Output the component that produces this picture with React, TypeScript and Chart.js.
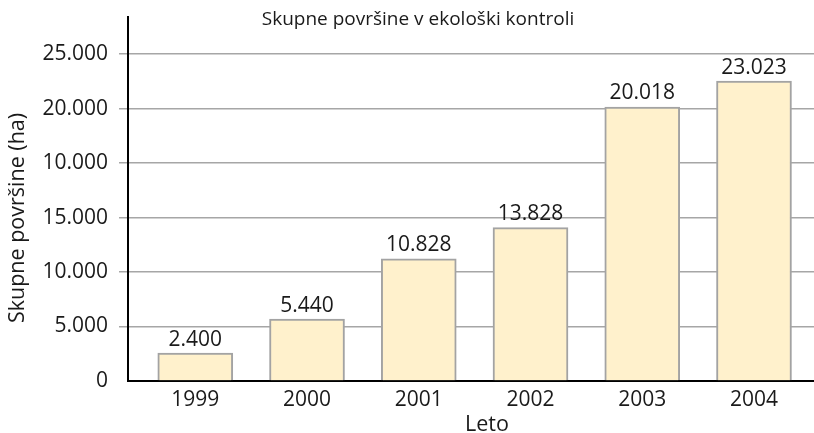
import React, { useEffect, useRef } from 'react';
import { Chart, registerables } from 'chart.js';

Chart.register(...registerables);

const years = ['1999', '2000', '2001', '2002', '2003', '2004'];
const barValues = [2566, 5683, 11210, 14079, 25142, 27525];
const valueLabels = ['2.400', '5.440', '10.828', '13.828', '20.018', '23.023'];
const yTickValues = [0, 5000, 10000, 15000, 20000, 25000, 30000];
const yTickLabels = ['0', '5.000', '10.000', '15.000', '10.000', '20.000', '25.000'];
const chartTitle = 'Skupne površine v ekološki kontroli';
const xTitle = 'Leto';
const yTitle = 'Skupne površine (ha)';

const FONT = '"Open Sans", "Noto Sans", sans-serif';
const TEXT = '#1a1a1a';

const textPlugin = {
  id: 'textPlugin',
  afterDatasetsDraw(chart: any) {
    const ctx = chart.ctx;
    const meta = chart.getDatasetMeta(0);
    const { left } = chart.chartArea;
    ctx.save();
    ctx.fillStyle = TEXT;
    ctx.textAlign = 'center';
    ctx.textBaseline = 'alphabetic';
    ctx.font = `21px ${FONT}`;
    meta.data.forEach((el: any, i: number) => {
      ctx.fillText(valueLabels[i], el.x, el.y - 7.5);
    });
    ctx.font = `19px ${FONT}`;
    ctx.textBaseline = 'middle';
    ctx.fillText(chartTitle, left + 290, 20);
    ctx.font = `21.5px ${FONT}`;
    ctx.textBaseline = 'alphabetic';
    ctx.fillText(xTitle, left + 359, 431);
    ctx.translate(24, 218);
    ctx.rotate(-Math.PI / 2);
    ctx.fillText(yTitle, 0, 0);
    ctx.restore();
  },
};

export default function App() {
  const ref = useRef<HTMLCanvasElement>(null);
  useEffect(() => {
    if (!ref.current) return;
    const chart = new Chart(ref.current, {
      type: 'bar',
      data: {
        datasets: [
          {
            data: years.map((_, i) => ({ x: i, y: barValues[i] })),
            backgroundColor: '#fff1cc',
            borderColor: '#a3a3a3',
            borderWidth: 2,
            barThickness: 75,
          } as any,
        ],
      },
      plugins: [textPlugin],
      options: {
        responsive: false,
        animation: false,
        devicePixelRatio: 1,
        layout: { padding: { top: 17, right: 0, left: 0, bottom: 0 } },
        plugins: {
          legend: { display: false },
          title: { display: false },
          tooltip: { enabled: false },
        },
        scales: {
          x: {
            type: 'linear',
            min: -0.602,
            max: 5.537,
            offset: false,
            grid: { display: false, drawTicks: false },
            border: { display: true, color: '#000', width: 2 },
            afterBuildTicks: (s: any) => {
              s.ticks = years.map((_, i) => ({ value: i }));
            },
            ticks: {
              padding: 6,
              color: TEXT,
              font: { family: FONT, size: 21 },
              callback: (v: any) => (Number.isInteger(v) && years[v] ? years[v] : ''),
            },
            afterFit: (s: any) => {
              s.height = 52;
              s.paddingLeft = 0;
              s.paddingRight = 0;
            },
          },
          y: {
            type: 'linear',
            min: 0,
            max: 33400,
            afterBuildTicks: (s: any) => {
              s.ticks = yTickValues.map((v) => ({ value: v }));
            },
            grid: {
              color: '#a6a6a6',
              lineWidth: 1.5,
              tickLength: 9,
              tickColor: (c: any) => (c.tick && c.tick.value === 0 ? 'rgba(0,0,0,0)' : '#a6a6a6'),
            },
            border: { display: true, color: '#000', width: 2 },
            ticks: {
              padding: 11,
              color: TEXT,
              font: { family: FONT, size: 21 },
              callback: (v: any) => {
                const i = yTickValues.indexOf(v);
                return i >= 0 ? yTickLabels[i] : '';
              },
            },
            afterFit: (s: any) => {
              s.width = 128;
              s.paddingTop = 0;
              s.paddingBottom = 0;
            },
          },
        },
      } as any,
    });
    return () => chart.destroy();
  }, []);
  return (
    <div style={{ position: 'absolute', left: 0, top: 0, width: 814, height: 433, background: '#fff' }}>
      <canvas ref={ref} width={814} height={433} style={{ display: 'block' }} />
    </div>
  );
}
